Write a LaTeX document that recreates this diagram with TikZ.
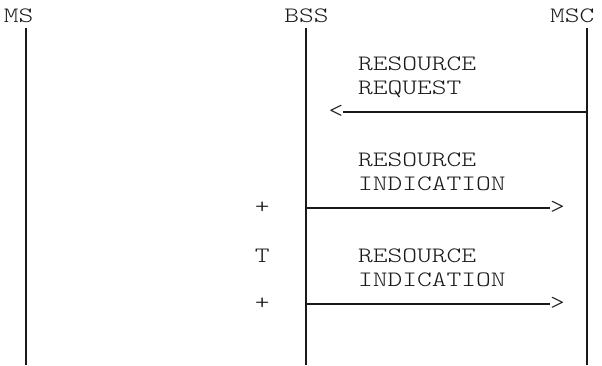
\documentclass[tikz,border=0pt]{standalone}
\usepackage{graphicx}
\newcommand{\mtx}[1]{\scalebox{1.278}[1]{#1}}
\tikzset{
  lbl/.style={anchor=base west, inner sep=0pt, outer sep=0pt, text=black!90,
    font=\fontsize{22}{24}\selectfont\ttfamily\fontseries{l}\selectfont},
  life/.style={line width=1.6pt, draw=black!90},
  msg/.style={line width=1.5pt, draw=black!90},
}
\begin{document}
\begin{tikzpicture}[x=1pt,y=-1pt]
\useasboundingbox (0,0) rectangle (602,365);
% headers
\node[lbl] (ms)  at (3.9,22.5)   {\mtx{MS}};
\node[lbl] (bss) at (284.34,22.5) {\mtx{BSS}};
\node[lbl] (msc) at (550.02,22.5) {\mtx{MSC}};
% lifelines
\coordinate (ms-top)  at (26,28);   \coordinate (ms-bot)  at (26,365);
\coordinate (bss-top) at (306,28);  \coordinate (bss-bot) at (306,365);
\coordinate (msc-top) at (587,28);  \coordinate (msc-bot) at (587,365);
\draw[life] (ms-top) -- (ms-bot);
\draw[life] (bss-top) -- (bss-bot);
\draw[life] (msc-top) -- (msc-bot);
% message 1
\node[lbl] (m1a) at (358.14,70.7) {\mtx{RESOURCE}};
\node[lbl] (m1b) at (358.14,94.7) {\mtx{REQUEST}};
\node[lbl] (h1)  at (328.62,117.5) {\mtx{<}};
\coordinate (msc-r4) at (587,112);
\draw[msg] (msc-r4) -- (msc-r4 -| h1.east);
% message 2
\node[lbl] (m2a) at (358.14,166.7) {\mtx{RESOURCE}};
\node[lbl] (m2b) at (358.14,190.7) {\mtx{INDICATION}};
\node[lbl] (p1)  at (254.82,213.5) {\mtx{+}};
\node[lbl] (h2)  at (550.02,213.5) {\mtx{>}};
\coordinate (bss-r8) at (306,208);
\draw[msg] (bss-r8) -- (bss-r8 -| h2.west);
% message 3
\node[lbl] (t)   at (254.82,262.7) {\mtx{T}};
\node[lbl] (m3a) at (358.14,262.7) {\mtx{RESOURCE}};
\node[lbl] (m3b) at (358.14,286.7) {\mtx{INDICATION}};
\node[lbl] (p2)  at (254.82,309.5) {\mtx{+}};
\node[lbl] (h3)  at (550.02,309.5) {\mtx{>}};
\coordinate (bss-r12) at (306,304);
\draw[msg] (bss-r12) -- (bss-r12 -| h3.west);
\end{tikzpicture}
\end{document}
